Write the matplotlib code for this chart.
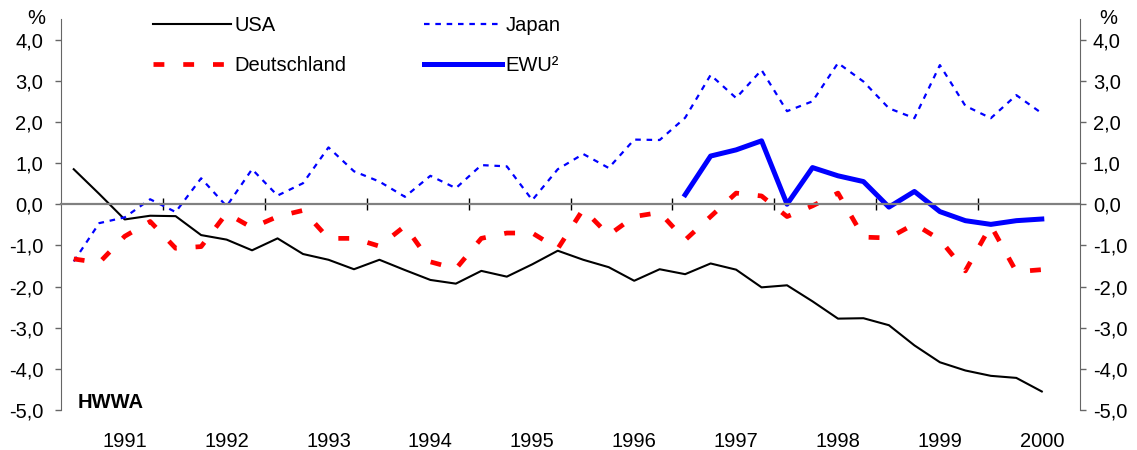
import matplotlib
matplotlib.use('Agg')
import matplotlib.pyplot as plt
import matplotlib.transforms as mtransforms
import numpy as np
from matplotlib.ticker import FuncFormatter, FixedLocator

plt.rcParams['font.family'] = ['Liberation Sans', 'DejaVu Sans']

# quarterly values, 1991 Q1 .. 2000 Q3, in %
years = [1991, 1992, 1993, 1994, 1995, 1996, 1997, 1998, 1999, 2000]
usa = [0.85, 0.25, -0.37, -0.28, -0.29, -0.75, -0.86, -1.12, -0.83, -1.21,
       -1.35, -1.58, -1.35, -1.60, -1.84, -1.93, -1.62, -1.76, -1.46, -1.13,
       -1.35, -1.53, -1.86, -1.58, -1.70, -1.44, -1.59, -2.02, -1.97, -2.36,
       -2.78, -2.77, -2.94, -3.43, -3.84, -4.04, -4.17, -4.22, -4.55]
japan = [-1.39, -0.46, -0.32, 0.12, -0.19, 0.63, -0.05, 0.85, 0.21, 0.51,
         1.38, 0.80, 0.55, 0.18, 0.69, 0.39, 0.95, 0.92, 0.10, 0.85,
         1.22, 0.88, 1.57, 1.56, 2.10, 3.14, 2.58, 3.26, 2.26, 2.50,
         3.43, 2.98, 2.33, 2.09, 3.38, 2.39, 2.09, 2.65, 2.21]
deutschland = [-1.33, -1.42, -0.78, -0.42, -1.07, -1.03, -0.22, -0.57, -0.30, -0.15,
               -0.83, -0.83, -1.02, -0.53, -1.40, -1.57, -0.83, -0.70, -0.70, -1.08,
               -0.12, -0.75, -0.30, -0.20, -0.87, -0.30, 0.27, 0.20, -0.30, -0.04,
               0.27, -0.80, -0.82, -0.48, -0.86, -1.62, -0.52, -1.64, -1.59]
# EWU starts in 1997 Q1
ewu = [0.23, 1.17, 1.32, 1.54, 0.00, 0.89, 0.69, 0.55, -0.07, 0.31,
       -0.18, -0.40, -0.49, -0.40, -0.36]

x = np.arange(len(usa))
x_ewu = x[len(usa) - len(ewu):]

fs = 14.5
fig = plt.figure(figsize=(11.37, 4.5), dpi=100)
ax = fig.add_axes([61 / 1137, 40 / 450, (1080 - 61) / 1137, (410 - 19) / 450])

l_usa, = ax.plot(x, usa, color='black', lw=1.5)
l_jap, = ax.plot(x, japan, color='#0000FF', lw=1.6, ls=(0, (2.5, 2.6)))
l_deu, = ax.plot(x, deutschland, color='#FF0000', lw=3.4, ls=(0, (2.3, 4.0)))
l_ewu, = ax.plot(x_ewu, ewu, color='#0000FF', lw=3.6)

ax.set_xlim(-0.5, 39.5)
ax.set_ylim(-5, 4.5)

fmt = FuncFormatter(lambda v, p: f'{v:.1f}'.replace('.', ','))
yt = np.arange(-5, 4.1, 1.0)

ax.yaxis.set_major_locator(FixedLocator(yt))
ax.yaxis.set_major_formatter(fmt)
ax.tick_params(axis='y', direction='out', length=4.3, width=1, color='#666666',
               pad=8.5, labelsize=fs)

ax.set_xticks([4 * k - 0.5 for k in range(1, 10)])
ax.tick_params(axis='x', direction='inout', length=9, width=1, color='black',
               labelbottom=False)

ax.spines['top'].set_visible(False)
ax.spines['right'].set_visible(False)
ax.spines['left'].set_color('#666666')
ax.spines['bottom'].set_position(('data', 0))
ax.spines['bottom'].set_color('#808080')
ax.spines['bottom'].set_linewidth(1.6)

ax2 = ax.twinx()
ax2.set_ylim(-5, 4.5)
ax2.yaxis.set_major_locator(FixedLocator(yt))
ax2.yaxis.set_major_formatter(fmt)
ax2.tick_params(axis='y', direction='out', length=4.3, width=1, color='#666666',
                pad=5, labelsize=fs)
for s in ['top', 'bottom', 'left']:
    ax2.spines[s].set_visible(False)
ax2.spines['right'].set_color('#666666')

# year labels under the plot
trans = mtransforms.blended_transform_factory(ax.transData, ax.transAxes)
for k, yr in enumerate(years):
    ax.text(4 * k + 2, -0.08, str(yr), transform=trans, ha='center', va='center',
            fontsize=fs)

fig.text(36 / 1137, 1 - 19 / 450, '%', ha='center', va='center', fontsize=fs)
fig.text(1108 / 1137, 1 - 19 / 450, '%', ha='center', va='center', fontsize=fs)
fig.text(78 / 1137, 1 - 402 / 450, 'HWWA', ha='left', va='center', fontsize=fs,
         fontweight='bold')

fig.legend([l_usa, l_deu, l_jap, l_ewu], ['USA', 'Deutschland', 'Japan', 'EWU²'],
           ncol=2, frameon=False, fontsize=fs, handlelength=3.85, handletextpad=0.2,
           columnspacing=3.85, labelspacing=1.05, borderpad=0, borderaxespad=0,
           loc='upper left', bbox_to_anchor=(153 / 1137, 1 - 16 / 450))

fig.savefig('out.png', dpi=100)
